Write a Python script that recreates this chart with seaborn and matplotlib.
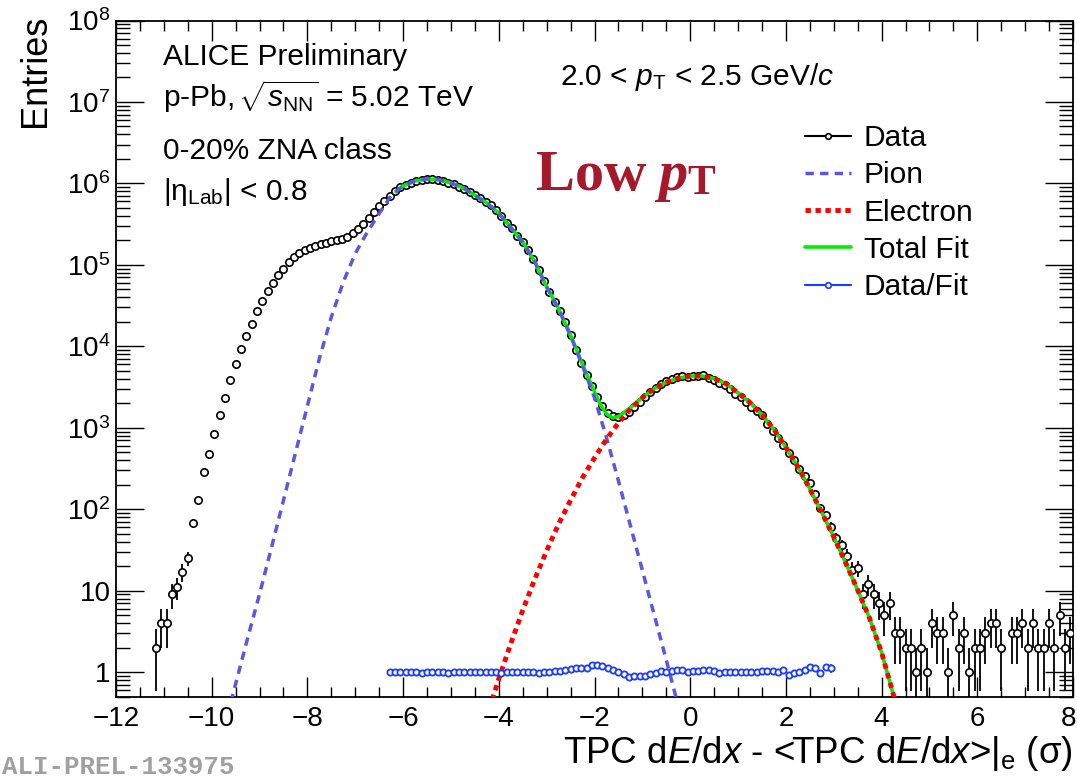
import numpy as np
import pandas as pd
import matplotlib
matplotlib.use("Agg")
import matplotlib.pyplot as plt
import matplotlib.transforms as mtransforms
import seaborn as sns
from matplotlib.lines import Line2D
from matplotlib.ticker import FixedLocator, LogLocator, MultipleLocator, NullFormatter

# ---------------- data ----------------
bin_lo, bin_hi, n_bins = -12.0, 8.0, 180
first_data_bin = 7
data_counts = [
    2, 4, 4, 9, 11, 17, 25, 67, 130, 290,
    475, 830, 1420, 2300, 3870, 6000, 9200, 13400, 19000, 27000,
    36000, 48000, 60000, 74800, 90000, 109000, 124000, 139000, 151000, 161000,
    171000, 181000, 188000, 194000, 200000, 210000, 222000, 245000, 276000, 318000,
    377000, 443000, 525000, 617000, 710000, 800000, 902000, 966000, 1020000, 1070000,
    1110000, 1135000, 1135000, 1110000, 1070000, 1020000, 977000, 912000, 851000, 776000,
    716000, 653000, 596000, 537000, 468000, 398000, 331000, 282000, 229000, 191000,
    151000, 117000, 87000, 63000, 46800, 35500, 26900, 20000, 13800, 9100,
    6300, 4450, 3250, 2370, 1860, 1540, 1400, 1350, 1440, 1580,
    1780, 2100, 2410, 2740, 3100, 3430, 3720, 3980, 4250, 4330,
    4250, 4360, 4310, 4450, 4050, 3870, 3590, 3310, 2990, 2630,
    2410, 2100, 1820, 1620, 1450, 1120, 910, 740, 617, 490,
    405, 316, 257, 209, 155, 105, 86, 61, 44, 36,
    27, 18, 19, 9, 12, 9, 7, 5, 7, 3,
    3, 2, 2, 1, 2, 1, 4, 3, 3, 1,
    5, 2, 3, 1, 2, 2, 3, 4, 4, 2,
    0, 3, 3, 4, 2, 4, 2, 2, 4, 2,
    5, 2, 3,
]
first_ratio_bin = 51
data_fit_ratio = [
    1.00, 1.01, 1.00, 1.00, 1.00, 1.00, 0.99, 1.00, 1.00, 1.00,
    1.00, 0.99, 1.00, 1.00, 1.00, 1.00, 1.00, 1.00, 1.00, 1.00,
    1.00, 0.99, 1.00, 1.00, 1.01, 1.00, 1.00, 1.00, 0.99, 1.00,
    1.01, 1.02, 1.04, 1.05, 1.08, 1.11,
    1.13, 1.13, 1.22, 1.22, 1.18, 1.11, 1.05, 1.01, 0.96, 0.88,
    0.91, 0.91, 0.91, 0.94, 0.99, 1.02, 1.01, 1.03, 1.07, 1.05,
    1.01, 1.03, 1.03, 1.06, 1.05, 1.03, 0.99, 1.01, 1.01, 1.01,
    1.01, 1.01, 1.01, 1.01, 1.04, 1.03, 1.03, 1.01, 1.05, 0.92,
    0.99, 1.00, 1.05, 1.15, 1.13, 0.98, 1.15, 1.11,
]
pion_x = [-9.60, -9.25, -9.00, -8.75, -8.50, -8.25, -8.00, -7.75, -7.50, -7.25,
          -7.00, -6.75, -6.50, -6.25, -6.00, -5.75, -5.50, -5.25, -5.00, -4.75,
          -4.50, -4.25, -4.00, -3.75, -3.50, -3.25, -3.00, -2.75, -2.50, -2.25,
          -2.00, -1.75, -1.50, -1.25, -1.00, -0.75, -0.50, -0.30, -0.20]
pion_y = [0.43, 2.6, 9.1, 34, 129, 490, 1860, 7080, 22900, 61700,
          138000, 251000, 427000, 708000, 933000, 1072000, 1135000, 1109000, 1012000, 881000,
          716000, 575000, 432000, 288000, 191000, 110000, 53700, 28800, 13500, 5750,
          2340, 760, 224, 63, 17.8, 5.0, 1.41, 0.50, 0.28]
electron_x = [-4.20, -4.00, -3.75, -3.50, -3.25, -3.00, -2.75, -2.50, -2.25, -2.00,
              -1.75, -1.50, -1.25, -1.00, -0.75, -0.50, -0.25, 0.00, 0.25, 0.50,
              0.75, 1.00, 1.25, 1.50, 1.75, 2.00, 2.25, 2.50, 2.75, 3.00,
              3.25, 3.50, 3.75, 4.00, 4.25, 4.40]
electron_y = [0.35, 0.83, 2.24, 5.75, 13.8, 30.9, 66, 129, 245, 427,
              724, 1148, 1698, 2344, 3020, 3630, 4070, 4315, 4315, 4030,
              3470, 2690, 2040, 1445, 955, 575, 331, 178, 91, 45.7,
              21.9, 10.2, 4.57, 1.74, 0.52, 0.26]
fit_x = [-6.15, -6.00, -5.75, -5.50, -5.25, -5.00, -4.75, -4.50, -4.25, -4.00,
         -3.75, -3.50, -3.25, -3.00, -2.75, -2.50, -2.25, -2.125, -2.00, -1.875,
         -1.75, -1.625, -1.50, -1.25, -1.00, -0.75, -0.50, -0.25, 0.00, 0.25,
         0.50, 0.75, 1.00, 1.25, 1.50, 1.75, 2.00, 2.25, 2.50, 2.75,
         3.00, 3.25, 3.50, 3.75, 4.00, 4.25, 4.35]
fit_y = [794000, 933000, 1072000, 1135000, 1109000, 1012000, 881000, 716000, 575000, 432000,
         288000, 191000, 110000, 53700, 28900, 13630, 6000, 4040, 2770, 1910,
         1480, 1330, 1370, 1760, 2360, 3025, 3630, 4070, 4315, 4315,
         4030, 3470, 2690, 2040, 1445, 955, 575, 331, 178, 91,
         45.7, 21.9, 10.2, 4.57, 1.74, 0.52, 0.33]

x_ticks = [-12, -10, -8, -6, -4, -2, 0, 2, 4, 6, 8]
x_tick_labels = ["\u221212", "\u221210", "\u22128", "\u22126", "\u22124", "\u22122",
                 "0", "2", "4", "6", "8"]
y_ticks = [1, 10, 1e2, 1e3, 1e4, 1e5, 1e6, 1e7, 1e8]
y_tick_labels = ["1", "10", "$10^{2}$", "$10^{3}$", "$10^{4}$", "$10^{5}$",
                 "$10^{6}$", "$10^{7}$", "$10^{8}$"]
legend_labels = ["Data", "Pion", "Electron", "Total Fit", "Data/Fit"]

# ---------------- style ----------------
sns.set_theme(style="ticks")
plt.rcParams["font.family"] = ["Liberation Sans", "DejaVu Sans"]
plt.rcParams["mathtext.fontset"] = "custom"
plt.rcParams["mathtext.rm"] = "Liberation Sans"
plt.rcParams["mathtext.it"] = "Liberation Sans:italic"
plt.rcParams["mathtext.bf"] = "Liberation Sans:bold"
plt.rcParams["axes.edgecolor"] = "black"
plt.rcParams["xtick.color"] = "black"
plt.rcParams["ytick.color"] = "black"
plt.rcParams["text.color"] = "black"

PION_C = "#5858e0"
ELEC_C = "#ff0000"
FIT_C = "#00ee00"
RATIO_C = "#1a3cff"
LOWPT_C = "#a5192d"
PION_LS = (0, (2.4, 1.8))
ELEC_LS = (0, (1.1, 0.95))

W, H = 1077, 777
fig = plt.figure(figsize=(W / 100, H / 100), dpi=100)
ax_l, ax_r, ax_t, ax_b = 116, 1073, 20.5, 696.7
ax = fig.add_axes([ax_l / W, 1 - ax_b / H, (ax_r - ax_l) / W, (ax_b - ax_t) / H])

width = (bin_hi - bin_lo) / n_bins
centers = bin_lo + width * (np.arange(n_bins) + 0.5)

counts = np.array(data_counts, dtype=float)
dx = centers[first_data_bin:first_data_bin + len(counts)]
m = counts > 0
data_df = pd.DataFrame({"x": dx[m], "y": counts[m]})
err = np.sqrt(data_df["y"].to_numpy())
lo = np.clip(data_df["y"].to_numpy() - err, 0.05, None)
hi = data_df["y"].to_numpy() + err

ratio = np.array(data_fit_ratio)
rx = centers[first_ratio_bin:first_ratio_bin + len(ratio)]
rcounts = counts[first_ratio_bin - first_data_bin:first_ratio_bin - first_data_bin + len(ratio)]
rerr = ratio / np.sqrt(rcounts)
ratio_df = pd.DataFrame({"x": rx, "y": ratio})

# data error bars and markers
ax.vlines(data_df["x"], lo, hi, colors="black", lw=1.3, zorder=2)
sns.scatterplot(data=data_df, x="x", y="y", ax=ax, marker="o", s=28,
                facecolor="white", edgecolor="black", linewidth=1.2, zorder=3)

# fit curves
sns.lineplot(x=fit_x, y=fit_y, ax=ax, color=FIT_C, lw=2.6, estimator=None,
             sort=False, zorder=4)
sns.lineplot(x=pion_x, y=pion_y, ax=ax, color=PION_C, lw=2.5, estimator=None,
             sort=False, zorder=5, linestyle=PION_LS)
sns.lineplot(x=electron_x, y=electron_y, ax=ax, color=ELEC_C, lw=3.5, estimator=None,
             sort=False, zorder=6, linestyle=ELEC_LS)

# data / fit ratio
ax.vlines(ratio_df["x"], ratio - rerr, ratio + rerr, colors=RATIO_C, lw=1.1, zorder=7)
sns.scatterplot(data=ratio_df, x="x", y="y", ax=ax, marker="o", s=20,
                facecolor="white", edgecolor=RATIO_C, linewidth=1.3, zorder=8)

# axes
ax.set_yscale("log")
ax.set_xlim(bin_lo, bin_hi)
ax.set_ylim(0.5, 1e8)
ax.set_xlabel("")
ax.set_ylabel("")
ax.xaxis.set_major_locator(FixedLocator(x_ticks))
ax.set_xticklabels(x_tick_labels)
ax.xaxis.set_minor_locator(MultipleLocator(0.5))
ax.yaxis.set_major_locator(FixedLocator(y_ticks))
ax.set_yticklabels(y_tick_labels)
ax.yaxis.set_minor_locator(LogLocator(base=10, subs=np.arange(2, 10), numticks=30))
ax.yaxis.set_minor_formatter(NullFormatter())
for s in ax.spines.values():
    s.set_linewidth(1.3)
    s.set_color("black")
ax.tick_params(which="both", direction="in", top=True, right=True, width=1.0)
ax.tick_params(axis="x", which="major", length=14.4, labelsize=20, pad=7)
ax.tick_params(axis="x", which="minor", length=7.2)
ax.tick_params(axis="y", which="major", length=20, labelsize=20, pad=4)
ax.tick_params(axis="y", which="minor", length=10)
# keep the last x tick label inside the canvas, like the reference
last = ax.get_xticklabels()[-1]
last.set_transform(last.get_transform() +
                   mtransforms.ScaledTranslation(-5 / 100, 0, fig.dpi_scale_trans))

# axis titles
fig.text(1073 / W, 1 - 763 / H,
         "TPC d$E$/d$x$ - <TPC d$E$/d$x$>|$_{\\mathrm{e}}$ (\u03c3)",
         ha="right", va="baseline", fontsize=26.5)
fig.text(45 / W, 1 - 15 / H, "Entries", rotation=90, rotation_mode="anchor",
         ha="right", va="baseline", fontsize=26)

# annotations
fs = 21.5
fig.text(163 / W, 1 - 65 / H, "ALICE Preliminary", fontsize=fs, va="baseline")
fig.text(163 / W, 1 - 107 / H, "p-Pb,$\\,\\sqrt{s_{\\mathrm{NN}}}$ = 5.02 TeV",
         fontsize=fs, va="baseline")
fig.text(163 / W, 1 - 159 / H, "0-20% ZNA class", fontsize=fs, va="baseline")
fig.text(163 / W, 1 - 200 / H, "|$\\mathrm{\u03b7}_{\\mathrm{Lab}}$| < 0.8",
         fontsize=fs, va="baseline")
fig.text(560 / W, 1 - 85 / H, "2.0 < $p_{\\mathrm{T}}$ < 2.5 GeV/$c$",
         fontsize=fs, va="baseline")
fig.text(536 / W, 1 - 190 / H, "Low", fontsize=42, fontweight="bold",
         family="Liberation Serif", color=LOWPT_C, va="baseline")
fig.text(658 / W, 1 - 190 / H, "p", fontsize=42, fontweight="bold", fontstyle="italic",
         family="Liberation Serif", color=LOWPT_C, va="baseline")
fig.text(687 / W, 1 - 194 / H, "T", fontsize=30, fontweight="bold",
         family="Liberation Serif", color=LOWPT_C, va="baseline")
fig.text(2 / W, 1 - 774 / H, "ALI-PREL-133975", fontsize=18.5, fontweight="bold",
         family="Liberation Mono", color="#a0a0a0", va="baseline")

# legend
handles = [
    Line2D([], [], color="black", lw=1.5, marker="o", ms=4, mfc="white", mec="black", mew=1.2),
    Line2D([], [], color=PION_C, lw=2.5, linestyle=PION_LS),
    Line2D([], [], color=ELEC_C, lw=3.5, linestyle=ELEC_LS),
    Line2D([], [], color=FIT_C, lw=2.6),
    Line2D([], [], color=RATIO_C, lw=1.5, marker="o", ms=4, mfc="white", mec=RATIO_C, mew=1.2),
]
leg = ax.legend(handles, legend_labels, loc="upper left",
                bbox_to_anchor=(805 / W, 1 - 124 / H), bbox_transform=fig.transFigure,
                frameon=False, fontsize=fs, handlelength=1.55, handletextpad=0.42,
                labelspacing=0.31, borderpad=0, borderaxespad=0)

fig.savefig("out.png", dpi=100)
